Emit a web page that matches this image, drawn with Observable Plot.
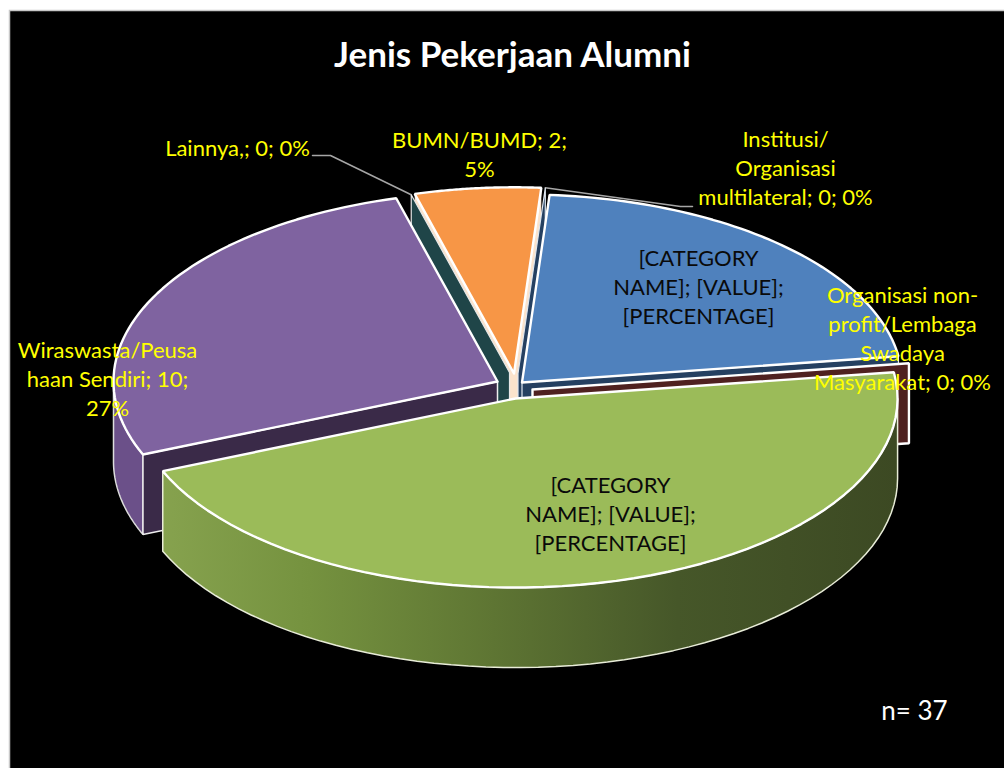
<!DOCTYPE html>
<html>
<head>
<meta charset="utf-8">
<script src="https://cdn.jsdelivr.net/npm/d3@7"></script>
<script src="https://cdn.jsdelivr.net/npm/@observablehq/plot@0.6"></script>
<style>
html,body{margin:0;padding:0;background:#fff;}
svg{display:block;}
</style>
</head>
<body>
<script>
// ---- data (clockwise from the right-hand side)
const categories = ["[CATEGORY NAME]", "Wiraswasta/Peusahaan Sendiri", "Lainnya,", "BUMN/BUMD", "Institusi/Organisasi multilateral", "[CATEGORY NAME] 2", "Organisasi non-profit/Lembaga Swadaya Masyarakat"];
const values = [17, 10, 0, 2, 0, 8, 0];
const total = 37;

const labelTexts = [
  "Lainnya,; 0; 0%",
  "BUMN/BUMD; 2;\n5%",
  "Institusi/\nOrganisasi\nmultilateral; 0; 0%",
  "[CATEGORY\nNAME]; [VALUE];\n[PERCENTAGE]",
  "Organisasi non-\nprofit/Lembaga\nSwadaya\nMasyarakat; 0; 0%",
  "Wiraswasta/Peusa\nhaan Sendiri; 10;\n27%",
  "[CATEGORY\nNAME]; [VALUE];\n[PERCENTAGE]"
];

// ---- layout
const W = 1004, H = 768;
const rx = 384, ry = 190, depth = 80;
const t0 = -8 * Math.PI / 180;
const apex = [[515,398],[497,381],[509,372],[513.5,373],[517.5,373],[521.5,382],[532,389]];
const rimScale = [0.995,1,0.97,0.98,0.98,0.99,0.99];
const topColors = ["#9bbb59","#7f63a0","#1f4548","#f79646","#254061","#4f81bd","#4f2120"];
const labelX = [237,479,785,698,902,107,610];
const labelY = [146,152.5,166,285,336.5,377,512];
const labelFill = ["#ffff00","#ffff00","#ffff00","#0a0a0a","#ffff00","#ffff00","#0a0a0a"];

// ---- projection of the pie from the values
const arcs = d3.pie().sort(null).startAngle(t0).endAngle(t0 + 2 * Math.PI)(values);
const rim = (i, t, drop = 0) => ({
  x: apex[i][0] + rx * rimScale[i] * Math.cos(t),
  y: apex[i][1] + ry * rimScale[i] * Math.sin(t) + drop
});
const arcPts = (i, a, b, drop = 0) => d3.range(0, 61).map(k => rim(i, a + (b - a) * k / 60, drop));
const centre = (i, drop = 0) => ({x: apex[i][0], y: apex[i][1] + drop});
const closed = pts => [...pts, pts[0]];
const sector = i => closed([centre(i), ...arcPts(i, arcs[i].startAngle, arcs[i].endAngle)]);
const band = (i, a, b) => closed([...arcPts(i, a, b), ...arcPts(i, a, b, depth).reverse()]);
const wall = (i, t) => closed([centre(i), rim(i, t), rim(i, t, depth), centre(i, depth)]);
const poly = (pts, fill, stroke = "#fff", strokeWidth = 2.4) =>
  Plot.line(pts, {x: "x", y: "y", fill, stroke, strokeWidth, strokeLinejoin: "miter", curve: "linear"});

// gradient of the green rim
const greenGradient = () => {
  const defs = d3.create("svg:defs");
  const g = defs.append("linearGradient").attr("id", "greenRim");
  [[0,"#86a24e"],[0.2,"#75923f"],[0.45,"#5e7533"],[0.7,"#465729"],[1,"#3c4923"]].forEach(([o,c]) =>
    g.append("stop").attr("offset", o).attr("stop-color", c));
  return defs.node();
};

// leader rows
const leaderLainnya = [{x:312,y:155},{x:330,y:155}, rim(2, arcs[2].startAngle)];
const leaderInstitusi = [{x:692,y:206},{x:680,y:206}, rim(4, arcs[4].startAngle)];

const labelRows = labelTexts.map((text, i) => ({text, x: labelX[i], y: labelY[i], fill: labelFill[i]}));

const chart = Plot.plot({
  width: W, height: H,
  margin: 0,
  style: {background: "#fff", fontFamily: "Lato, sans-serif"},
  x: {domain: [0, W], range: [0, W], axis: null},
  y: {domain: [0, H], range: [0, H], axis: null},
  marks: [
    greenGradient,
    Plot.rect([{x1: 9.5, x2: W + 5, y1: 10.5, y2: H + 5}], {x1: "x1", x2: "x2", y1: "y1", y2: "y2", fill: "#000", stroke: "#c8c8c8", strokeWidth: 1.5}),
    Plot.line(leaderLainnya, {x: "x", y: "y", stroke: "#a6a6a6", strokeWidth: 1.5}),
    Plot.line(leaderInstitusi, {x: "x", y: "y", stroke: "#a6a6a6", strokeWidth: 1.5}),
    // cut walls of the orange slice, pale
    poly(wall(3, arcs[3].startAngle), "#fbe3cc", "none", 0),
    poly(wall(3, arcs[3].endAngle), "#fbe3cc", "none", 0),
    // zero-value slices: only their cut walls show
    poly(wall(4, arcs[4].startAngle), topColors[4], "#dfe6ee", 1.2),
    poly(wall(2, arcs[2].startAngle), topColors[2], "#e8e8e8", 1.2),
    poly(wall(5, arcs[5].endAngle), topColors[4], "#dfe6ee", 1.2),
    poly(wall(6, arcs[6].startAngle), topColors[6]),
    // purple slice
    poly(band(1, arcs[1].startAngle, Math.PI), "#6b5089", "#ddd", 1.5),
    poly(wall(1, arcs[1].startAngle), "#3a2a48", "#eee", 1.5),
    poly(sector(1), topColors[1]),
    // blue and orange
    poly(sector(5), topColors[5]),
    poly(sector(3), topColors[3]),
    // green slice
    poly(closed([...arcPts(0, 0, arcs[0].endAngle), ...arcPts(0, 0, arcs[0].endAngle, depth).reverse()]), "url(#greenRim)", "#e8ecd8", 1.5),
    poly(sector(0), topColors[0]),
    // texts
    Plot.text(labelRows, {x: "x", y: "y", text: "text", fill: "fill", fontSize: 22, lineHeight: 1.32, lineAnchor: "middle", textAnchor: "middle"}),
    Plot.text(["Jenis Pekerjaan Alumni"], {x: [512], y: [55], text: d => d, fill: "#fff", fontSize: 35, fontWeight: 700, textAnchor: "middle"}),
    Plot.text([`n= ${total}`], {x: [914], y: [711], text: d => d, fill: "#fff", fontSize: 26, textAnchor: "middle"})
  ]
});
document.body.appendChild(chart);
</script>
</body>
</html>
